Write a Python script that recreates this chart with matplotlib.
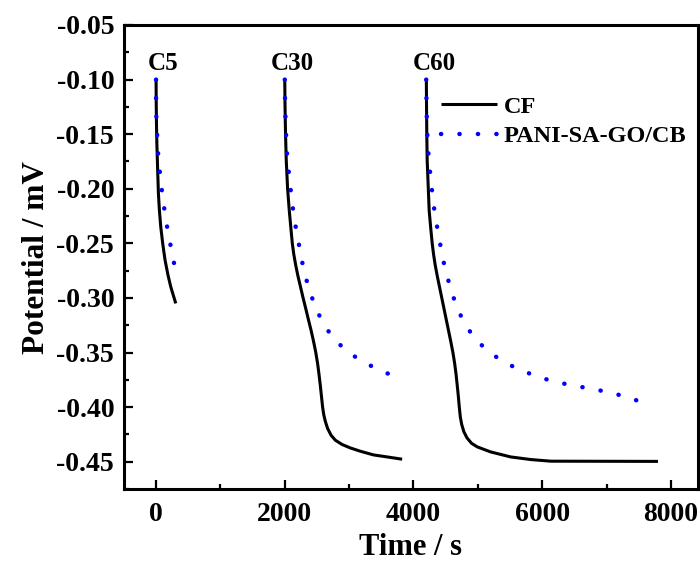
import matplotlib
matplotlib.use("Agg")
import matplotlib.pyplot as plt
from matplotlib.ticker import MultipleLocator, FormatStrFormatter

plt.rcParams['font.family'] = ['Liberation Serif', 'DejaVu Serif']
plt.rcParams['font.weight'] = 'bold'
plt.rcParams['axes.unicode_minus'] = False

# CF curves (time in s, potential in mV)
c5_cf_t = [0, 2, 6, 12, 20, 36, 52, 73, 105, 140, 185, 229, 270, 306]
c5_cf_v = [-0.100, -0.120, -0.140, -0.158, -0.174, -0.204, -0.220, -0.235,
           -0.251, -0.2655, -0.279, -0.290, -0.298, -0.305]

c30_cf_t = [2000, 2003, 2007, 2012, 2023, 2044, 2070, 2095, 2117, 2140, 2170,
            2205, 2245, 2285, 2327, 2368, 2410, 2448, 2482, 2510, 2532, 2552,
            2570, 2588, 2606, 2630, 2666, 2719, 2786, 2890, 3020, 3175, 3382,
            3590, 3824]
c30_cf_v = [-0.100, -0.120, -0.135, -0.150, -0.174, -0.200, -0.220, -0.236,
            -0.250, -0.260, -0.270, -0.280, -0.290, -0.300, -0.310, -0.320,
            -0.330, -0.340, -0.350, -0.360, -0.370, -0.380, -0.390, -0.400,
            -0.407, -0.413, -0.4196, -0.4257, -0.4303, -0.4342, -0.4374,
            -0.4404, -0.4438, -0.4456, -0.4477]

c60_cf_t = [4200, 4203, 4207, 4213, 4244, 4268, 4291, 4312, 4338, 4370, 4405,
            4440, 4475, 4510, 4545, 4580, 4613, 4640, 4662, 4680, 4697, 4712,
            4728, 4750, 4783, 4830, 4900, 4991, 5198, 5510, 5821, 6132, 7800]
c60_cf_v = [-0.100, -0.125, -0.150, -0.174, -0.220, -0.236, -0.250, -0.260,
            -0.270, -0.280, -0.290, -0.300, -0.310, -0.320, -0.330, -0.340,
            -0.350, -0.360, -0.370, -0.380, -0.390, -0.400, -0.409, -0.416,
            -0.4225, -0.428, -0.433, -0.4364, -0.441, -0.4456, -0.448,
            -0.4495, -0.4497]

# PANI-SA-GO/CB curves
c5_pani_t = [0, 0, 5, 20, 36, 67, 98, 140, 187, 244, 300]
c5_pani_v = [-0.100, -0.1196, -0.137, -0.1547, -0.1723, -0.189, -0.206,
             -0.2234, -0.2405, -0.2575, -0.2746]

c30_pani_t = [2000, 2004, 2012, 2023, 2039, 2070, 2101, 2137, 2184, 2241, 2293,
              2370, 2464, 2588, 2750, 2973, 3233, 3502, 3782]
c30_pani_v = [-0.100, -0.1196, -0.137, -0.155, -0.172, -0.189, -0.206, -0.223,
              -0.240, -0.2575, -0.274, -0.2905, -0.3067, -0.3225, -0.3366,
              -0.3494, -0.359, -0.367, -0.3733]

c60_pani_t = [4198, 4202, 4207, 4218, 4238, 4265, 4296, 4332, 4384, 4436, 4493,
              4576, 4665, 4789, 4945, 5157, 5416, 5686, 5966, 6252, 6548, 6833,
              7124, 7409, 7720]
c60_pani_v = [-0.100, -0.1196, -0.137, -0.1547, -0.1723, -0.189, -0.206,
              -0.2234, -0.2405, -0.2575, -0.274, -0.291, -0.3073, -0.3229,
              -0.3366, -0.3488, -0.3592, -0.3665, -0.3729, -0.3775, -0.3809,
              -0.3839, -0.3876, -0.3925, -0.3995]

cycle_labels = ['C5', 'C30', 'C60']
cycle_label_x = [109, 2117, 4327]
cycle_label_y = -0.085

fig = plt.figure(figsize=(7.0, 5.63), dpi=100)
ax = fig.add_axes([0.177, 0.1314, 0.82, 0.8242])

cf_style = dict(color='black', linewidth=2.2, solid_capstyle='butt', solid_joinstyle='round')
pani_style = dict(color=(0, 0, 1), linewidth=3.2, linestyle=(0, (0.05, 4.1)),
                  dash_capstyle='round')

ax.plot(c5_cf_t, c5_cf_v, label='CF', **cf_style)
ax.plot(c30_cf_t, c30_cf_v, **cf_style)
ax.plot(c60_cf_t, c60_cf_v, **cf_style)
ax.plot(c5_pani_t, c5_pani_v, label='PANI-SA-GO/CB', **pani_style)
ax.plot(c30_pani_t, c30_pani_v, **pani_style)
ax.plot(c60_pani_t, c60_pani_v, **pani_style)

for lab, xl in zip(cycle_labels, cycle_label_x):
    ax.text(xl, cycle_label_y, lab, ha='center', va='center', fontsize=18, fontweight='bold')

ax.set_xlim(-500, 8420)
ax.set_ylim(-0.475, -0.05)
ax.xaxis.set_major_locator(MultipleLocator(2000))
ax.xaxis.set_minor_locator(MultipleLocator(1000))
ax.yaxis.set_major_locator(MultipleLocator(0.05))
ax.yaxis.set_minor_locator(MultipleLocator(0.025))
ax.yaxis.set_major_formatter(FormatStrFormatter('%.2f'))

ax.tick_params(which='major', direction='in', length=6.5, width=1.6, labelsize=20)
ax.tick_params(axis='x', which='major', pad=9)
ax.tick_params(axis='y', which='major', pad=7)
ax.tick_params(which='minor', direction='in', length=3.5, width=1.6)
ax.tick_params(top=False, right=False, which='both')
for sp in ax.spines.values():
    sp.set_linewidth(2.2)

ax.set_xlabel('Time / s', fontsize=22, fontweight='bold', labelpad=5)
ax.set_ylabel('Potential / mV', fontsize=22.5, fontweight='bold', labelpad=4)

leg = ax.legend(loc='upper left', bbox_to_anchor=(0.552, 0.848), frameon=False,
                fontsize=17.5, handlelength=2.3, handletextpad=0.3,
                labelspacing=0.32, borderpad=0, borderaxespad=0)
for t in leg.get_texts():
    t.set_fontweight('bold')

fig.savefig('out.png', dpi=100)
